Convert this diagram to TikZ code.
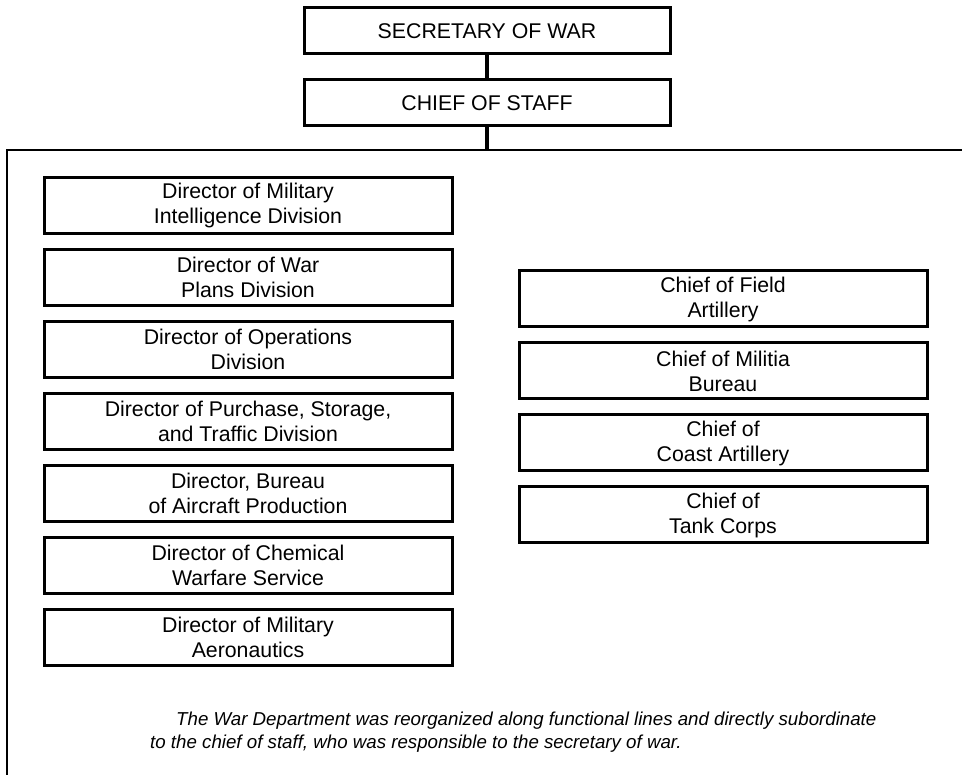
\documentclass[tikz,border=0pt]{standalone}
\usepackage{fontspec}
\setmainfont{Liberation Sans}
\usetikzlibrary{positioning}

\begin{document}
\begin{tikzpicture}[x=1pt,y=-1pt,
    topbox/.style={draw,line width=3pt,minimum width=366pt,minimum height=46pt,
      font=\fontsize{21.3}{25}\selectfont},
    unitbox/.style={draw,line width=3pt,minimum width=408pt,minimum height=56pt,
      align=center,font=\fontsize{21.3}{25}\selectfont},
    link/.style={line width=4.5pt},
    frame/.style={line width=2.6pt},
    note/.style={align=left,inner sep=0pt,font=\fontsize{18.7}{23}\selectfont\itshape}]
  \useasboundingbox (0,0) rectangle (962,775);

  % head of the department
  \node[topbox] (sec) at (487,31) {SECRETARY OF WAR};
  \node[topbox,below=23pt of sec] (cos) {CHIEF OF STAFF};
  \coordinate (bus) at (487,150);
  \coordinate (busl) at (7,150);
  \coordinate (busr) at (962,150);
  \coordinate (foot) at (7,775);
  \draw[link] (sec) -- (cos);
  \draw[link] (cos) -- (bus);
  \draw[frame] (foot) -- (busl) -- (busr);

  % directors
  \node[unitbox] (mid) at (248,205.5) {Director of Military\\Intelligence Division};
  \node[unitbox,below=13pt of mid] (wpd) {Director of War\\Plans Division};
  \node[unitbox,below=13pt of wpd] (ops) {Director of Operations\\Division};
  \node[unitbox,below=13pt of ops] (pst) {Director of Purchase, Storage,\\and Traffic Division};
  \node[unitbox,below=13pt of pst] (bap) {Director, Bureau\\of Aircraft Production};
  \node[unitbox,below=13pt of bap] (cws) {Director of Chemical\\Warfare Service};
  \node[unitbox,below=13pt of cws] (dma) {Director of Military\\Aeronautics};

  % chiefs of arms
  \node[unitbox] (cfa) at (723,299) {Chief of Field\\Artillery};
  \node[unitbox,below=13pt of cfa] (cmb) {Chief of Militia\\Bureau};
  \node[unitbox,below=13pt of cmb] (cca) {Chief of\\Coast Artillery};
  \node[unitbox,below=13pt of cca] (ctc) {Chief of\\Tank Corps};

  % caption
  \node[note,anchor=north west] (cap) at (150,711.5)
    {\hspace*{26pt}The War Department was reorganized along functional lines and directly subordinate\\
     to the chief of staff, who was responsible to the secretary of war.};
\end{tikzpicture}
\end{document}
